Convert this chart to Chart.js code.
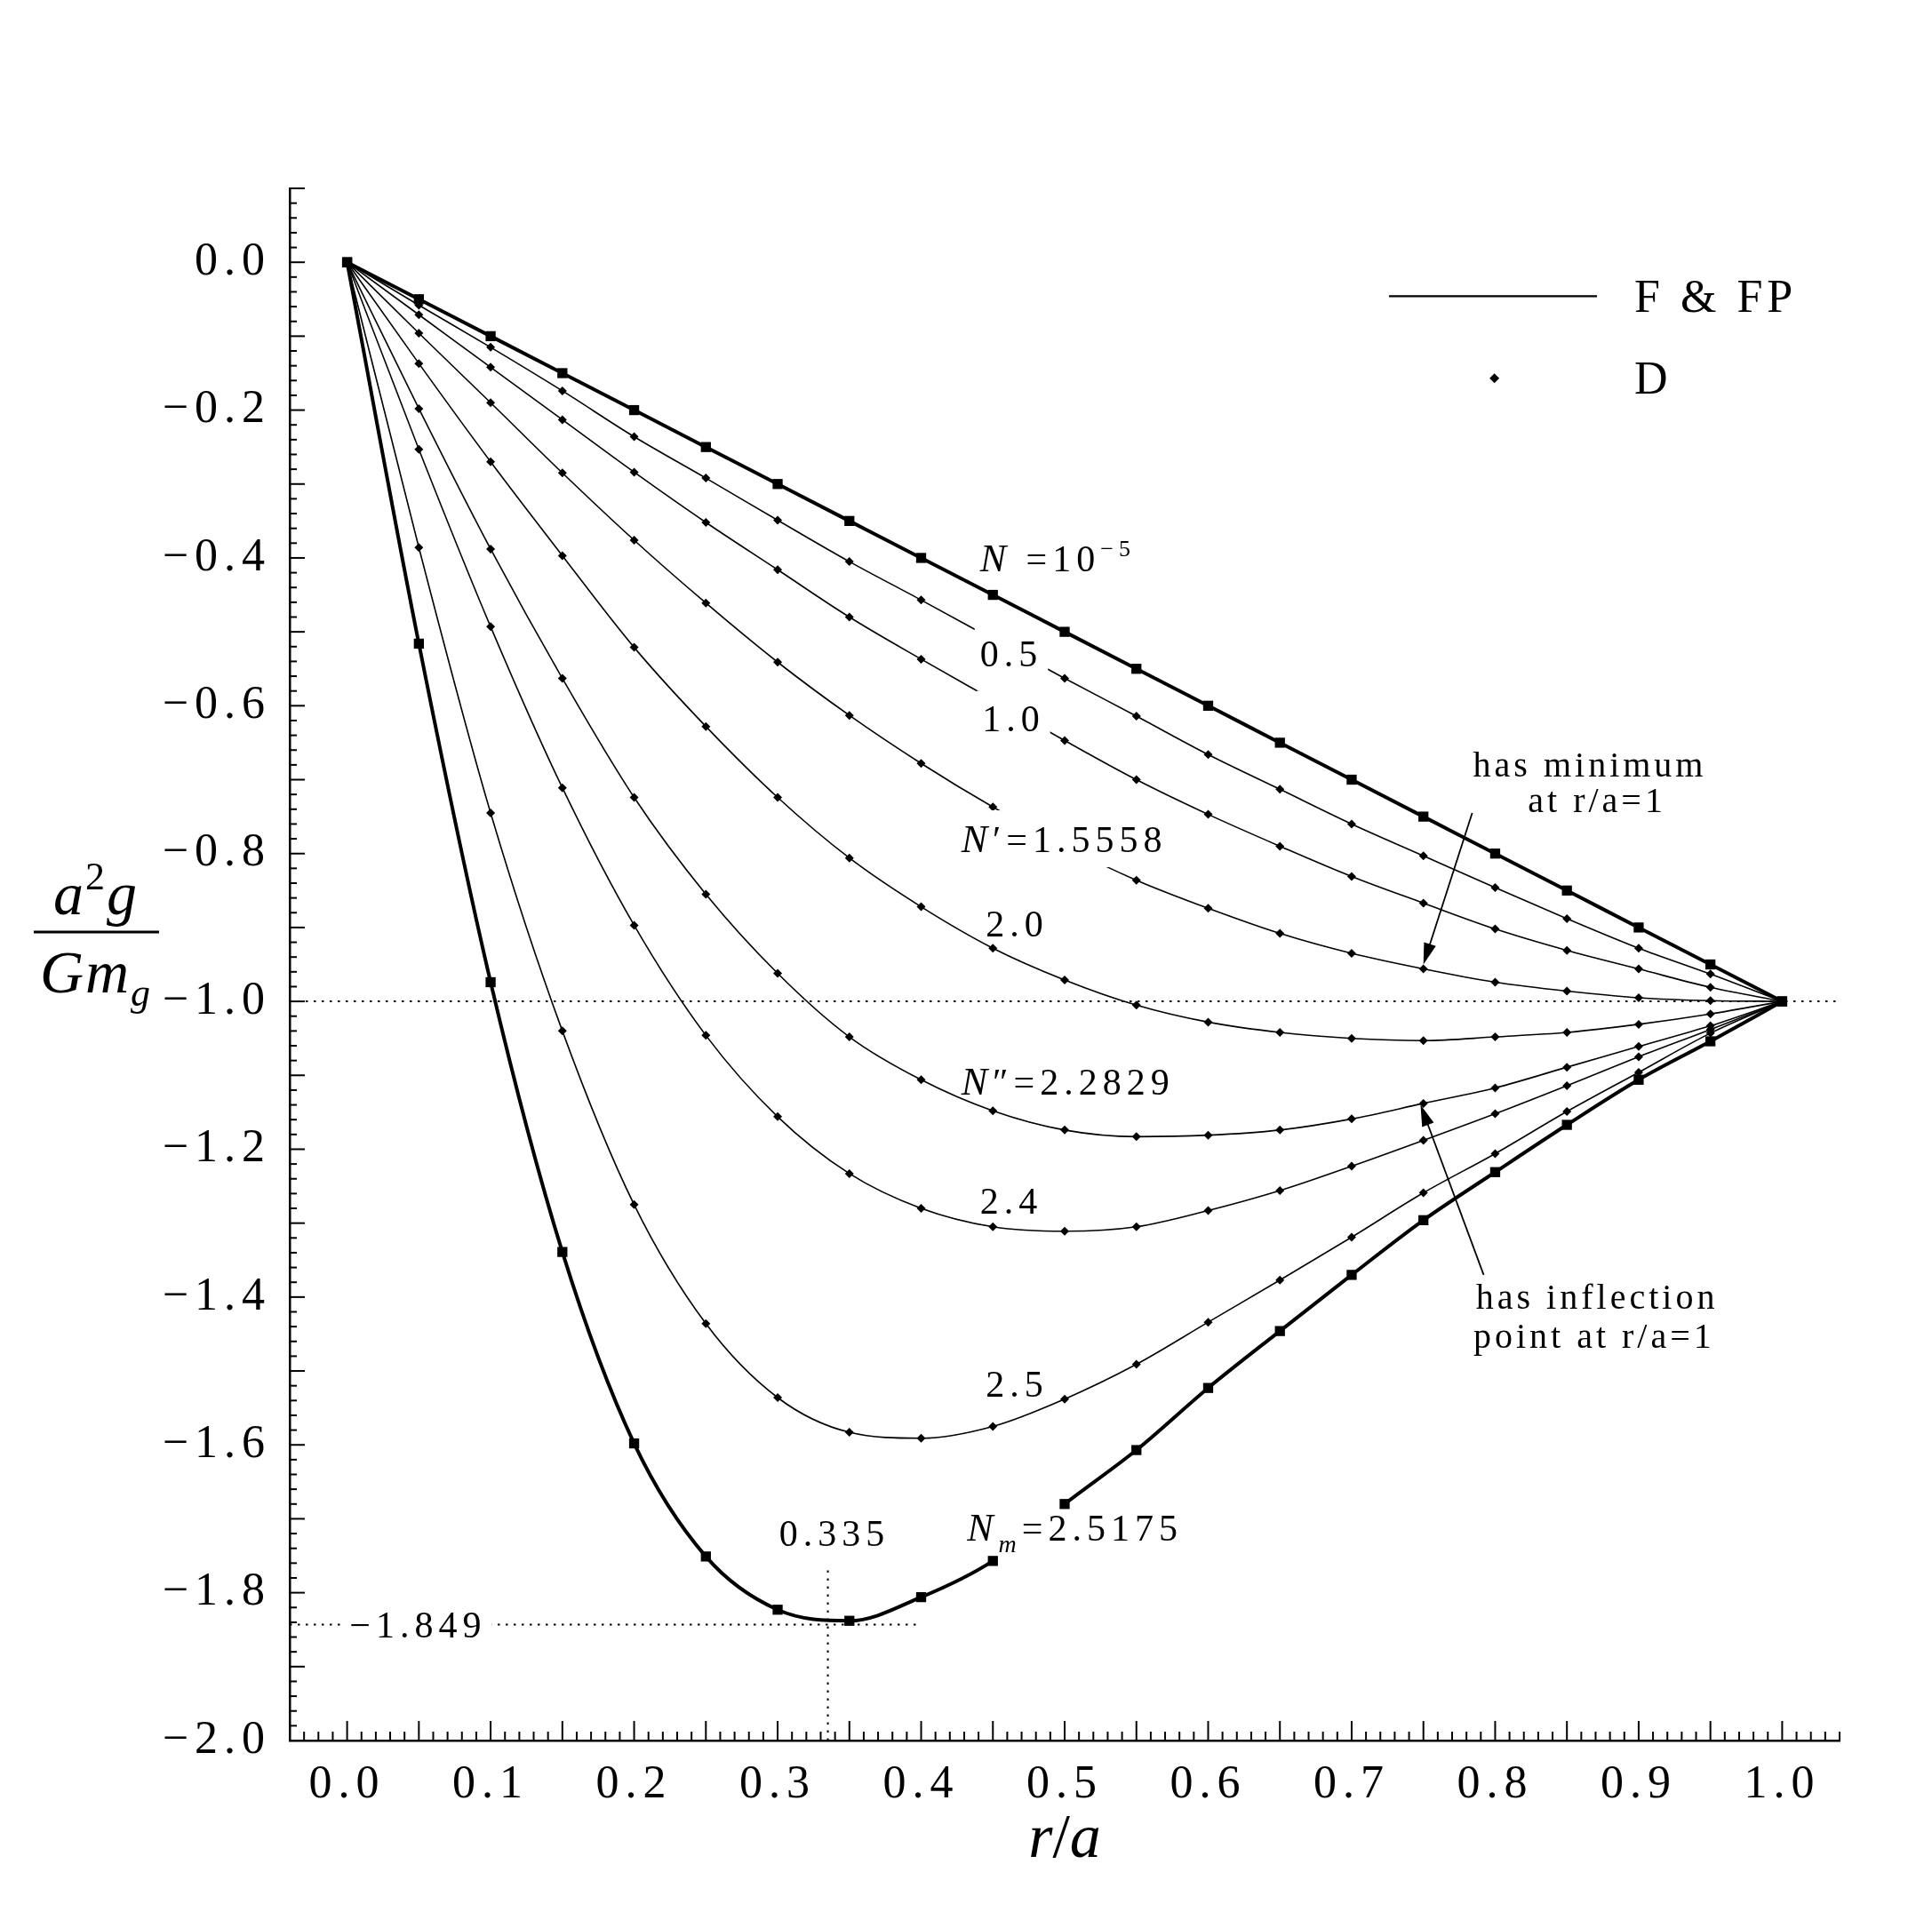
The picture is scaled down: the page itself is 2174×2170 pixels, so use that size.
<!DOCTYPE html>
<html>
<head>
<meta charset="utf-8">
<title>a2g/Gmg vs r/a</title>
<script src="https://cdn.jsdelivr.net/npm/chart.js@4.4.1/dist/chart.umd.min.js"></script>
<style>
    html, body { margin: 0; padding: 0; background: #fff; }
    canvas { display: block; }
</style>
</head>
<body>
<canvas id="chart" width="2174" height="2170"></canvas>
<script>
// r/a sample points
const rVals = [0, 0.05, 0.1, 0.15, 0.2, 0.25, 0.3, 0.35, 0.4, 0.45, 0.5,
    0.55, 0.6, 0.65, 0.7, 0.75, 0.8, 0.85, 0.9, 0.95, 1.0];

// a^2 g / (G m_g) for each N
const gN1e5 = [0, -0.05, -0.1, -0.15, -0.2, -0.25, -0.3, -0.35, -0.4, -0.45, -0.5,
    -0.55, -0.6, -0.65, -0.7, -0.75, -0.8, -0.85, -0.9, -0.95, -1.0];
const gN05 = [0, -0.058, -0.115, -0.174, -0.236, -0.292, -0.349, -0.405, -0.457, -0.51, -0.563,
    -0.614, -0.666, -0.713, -0.76, -0.803, -0.846, -0.888, -0.928, -0.963, -1.0];
const gN10 = [0, -0.071, -0.142, -0.213, -0.284, -0.352, -0.416, -0.48, -0.537, -0.592, -0.647,
    -0.7, -0.747, -0.79, -0.831, -0.867, -0.902, -0.931, -0.956, -0.981, -1.0];
const gNp = [0, -0.096, -0.19, -0.285, -0.376, -0.461, -0.541, -0.613, -0.678, -0.737, -0.79,
    -0.836, -0.874, -0.908, -0.935, -0.956, -0.974, -0.986, -0.995, -0.999, -1.0];
const gN20 = [0, -0.137, -0.27, -0.397, -0.521, -0.628, -0.724, -0.806, -0.872, -0.928, -0.971,
    -1.005, -1.028, -1.042, -1.05, -1.053, -1.048, -1.042, -1.031, -1.017, -1.0];
const gNpp = [0, -0.198, -0.388, -0.563, -0.724, -0.855, -0.962, -1.048, -1.106, -1.148, -1.174,
    -1.183, -1.181, -1.174, -1.159, -1.138, -1.117, -1.089, -1.061, -1.033, -1.0];
const gN24 = [0, -0.253, -0.493, -0.711, -0.897, -1.046, -1.156, -1.233, -1.28, -1.305, -1.311,
    -1.305, -1.283, -1.256, -1.223, -1.188, -1.152, -1.114, -1.075, -1.038, -1.0];
const gN25 = [0, -0.386, -0.745, -1.04, -1.275, -1.436, -1.536, -1.583, -1.591, -1.575, -1.538,
    -1.491, -1.434, -1.377, -1.319, -1.259, -1.206, -1.149, -1.096, -1.043, -1.0];
const gNm = [0, -0.516, -0.974, -1.339, -1.598, -1.751, -1.823, -1.838, -1.806, -1.757, -1.68,
    -1.607, -1.523, -1.446, -1.37, -1.296, -1.231, -1.167, -1.106, -1.054, -1.0];

// ticks
const xTickVals = [0, 0.1, 0.2, 0.3, 0.4, 0.5, 0.6, 0.7, 0.8, 0.9, 1.0];
const yTickVals = [-2.0, -1.8, -1.6, -1.4, -1.2, -1.0, -0.8, -0.6, -0.4, -0.2, 0.0];

// marked minimum of the N_m curve (guide lines as drawn in the figure)
const minR = 0.335;
const minGuide = -1.843;

const SERIF = '"Liberation Serif", "DejaVu Serif", serif';
const rm = s => `${s}px ${SERIF}`;
const it = s => `italic ${s}px ${SERIF}`;

// F & FP curves are thick with squares, D curves thin with diamonds
const curves = [
    { name: 'N=1e-5', vals: gN1e5, thick: true },
    { name: '0.5', vals: gN05 },
    { name: '1.0', vals: gN10 },
    { name: "N'=1.5558", vals: gNp },
    { name: '2.0', vals: gN20 },
    { name: "N''=2.2829", vals: gNpp },
    { name: '2.4', vals: gN24 },
    { name: '2.5', vals: gN25 },
    { name: 'Nm=2.5175', vals: gNm, thick: true, gapAfter: 9 }
];

// curve labels: left edge / vertical centre in data units
const curveLabels = [
    { x: 0.441, y: -0.400, parts: [['N', it(44)], [' =10', rm(42)], ['\u22125', rm(26), -17]] },
    { x: 0.441, y: -0.530, bg: true, parts: [['0.5', rm(42)]] },
    { x: 0.4425, y: -0.617, bg: true, parts: [['1.0', rm(42)]] },
    { x: 0.428, y: -0.780, bg: true, parts: [['N', it(44)], ['\u2032=1.5558', rm(42)]] },
    { x: 0.445, y: -0.895, parts: [['2.0', rm(42)]] },
    { x: 0.428, y: -1.108, parts: [['N', it(44)], ['\u2033=2.2829', rm(42)]] },
    { x: 0.441, y: -1.270, parts: [['2.4', rm(42)]] },
    { x: 0.445, y: -1.518, parts: [['2.5', rm(42)]] },
    { x: 0.432, y: -1.712, parts: [['N', it(44)], ['m', it(28), 13], ['=2.5175', rm(42)]] },
    { x: 0.0017, y: minGuide, bg: true, parts: [['\u22121.849', rm(42)]] },
    { x: 0.301, y: -1.720, parts: [['0.335', rm(42)]] }
];

const notes = [
    { x: 0.866, y: -0.679, text: 'has minimum' },
    { x: 0.871, y: -0.728, text: 'at r/a=1' },
    { x: 0.871, y: -1.400, text: 'has inflection' },
    { x: 0.869, y: -1.452, text: 'point at r/a=1' }
];

const arrows = [
    { from: [0.784, -0.745], to: [0.750, -0.950] },
    { from: [0.792, -1.370], to: [0.748, -1.140] }
];

function drawRun(ctx, parts, x, yMid, align, spacing, bg) {
    let w = 0;
    parts.forEach(p => {
        ctx.font = p[1];
        ctx.letterSpacing = spacing + 'px';
        p.w = ctx.measureText(p[0]).width;
        w += p.w;
    });
    const size = parseFloat(parts[0][1].match(/(\d+)px/)[1]);
    const base = yMid + size * 0.34;
    let cx = align === 'center' ? x - w / 2 : x;
    if (bg) {
        ctx.fillStyle = '#fff';
        ctx.fillRect(cx - 6, yMid - size * 0.5 - 10, w + 12, size + 20);
    }
    ctx.fillStyle = '#000';
    ctx.textAlign = 'left';
    ctx.textBaseline = 'alphabetic';
    parts.forEach(p => {
        ctx.font = p[1];
        ctx.letterSpacing = spacing + 'px';
        ctx.fillText(p[0], cx, base + (p[2] || 0));
        cx += p.w;
    });
}

function line(ctx, x1, y1, x2, y2) {
    ctx.beginPath();
    ctx.moveTo(x1, y1);
    ctx.lineTo(x2, y2);
    ctx.stroke();
}

const decorations = {
    id: 'decorations',
    beforeDraw(chart) {
        chart.ctx.letterSpacing = '7px';
    },
    beforeDatasetsDraw(chart) {
        const ctx = chart.ctx, xs = chart.scales.x, ys = chart.scales.y, a = chart.chartArea;
        ctx.save();
        ctx.strokeStyle = '#000';
        ctx.lineWidth = 2;
        ctx.setLineDash([2.5, 6.5]);
        line(ctx, a.left, ys.getPixelForValue(-1), a.right, ys.getPixelForValue(-1));
        line(ctx, a.left, ys.getPixelForValue(minGuide), xs.getPixelForValue(0.4), ys.getPixelForValue(minGuide));
        line(ctx, xs.getPixelForValue(minR), a.bottom, xs.getPixelForValue(minR), ys.getPixelForValue(-1.765));
        ctx.restore();
    },
    afterDraw(chart) {
        const ctx = chart.ctx, xs = chart.scales.x, ys = chart.scales.y, a = chart.chartArea;
        const X = v => xs.getPixelForValue(v), Y = v => ys.getPixelForValue(v);
        ctx.save();

        // tick marks, pointing into the plot
        ctx.strokeStyle = '#000';
        ctx.lineWidth = 2;
        for (let k = -4; k <= 104; k++) {
            const px = X(k / 100);
            line(ctx, px, a.bottom, px, a.bottom - (k % 5 === 0 ? 22 : 10));
        }
        for (let k = -100; k <= 5; k++) {
            const py = Y(k / 50);
            line(ctx, a.left, py, a.left + (k % 5 === 0 ? 17 : 8), py);
        }

        // curve labels
        curveLabels.forEach(l => {
            drawRun(ctx, l.parts.map(p => p.slice()), X(l.x), Y(l.y), 'left', 6, l.bg);
        });

        // notes and arrows
        notes.forEach(n => drawRun(ctx, [[n.text, rm(40)]], X(n.x), Y(n.y), 'center', 4, false));
        ctx.letterSpacing = '0px';
        arrows.forEach(ar => {
            const x1 = X(ar.from[0]), y1 = Y(ar.from[1]), x2 = X(ar.to[0]), y2 = Y(ar.to[1]);
            const ang = Math.atan2(y2 - y1, x2 - x1);
            const L = 24, W = 7;
            ctx.lineWidth = 1.8;
            line(ctx, x1, y1, x2 - Math.cos(ang) * L * 0.8, y2 - Math.sin(ang) * L * 0.8);
            ctx.beginPath();
            ctx.moveTo(x2, y2);
            ctx.lineTo(x2 - Math.cos(ang) * L - Math.sin(ang) * W, y2 - Math.sin(ang) * L + Math.cos(ang) * W);
            ctx.lineTo(x2 - Math.cos(ang) * L + Math.sin(ang) * W, y2 - Math.sin(ang) * L - Math.cos(ang) * W);
            ctx.closePath();
            ctx.fillStyle = '#000';
            ctx.fill();
        });

        // legend
        ctx.lineWidth = 2.2;
        line(ctx, X(0.726), Y(-0.046), X(0.871), Y(-0.046));
        const dx = X(0.7995), dy = Y(-0.157), r = 5.5;
        ctx.beginPath();
        ctx.moveTo(dx, dy - r);
        ctx.lineTo(dx + r, dy);
        ctx.lineTo(dx, dy + r);
        ctx.lineTo(dx - r, dy);
        ctx.closePath();
        ctx.fill();
        drawRun(ctx, [['F & FP', rm(52)]], X(0.897), Y(-0.046), 'left', 5, false);
        drawRun(ctx, [['D', rm(52)]], X(0.897), Y(-0.157), 'left', 5, false);

        // axis titles
        drawRun(ctx, [['r', it(70)], ['/', rm(70)], ['a', it(70)]], (a.left + a.right) / 2, 2066, 'center', 0, false);
        drawRun(ctx, [['a', it(68)], ['2', rm(44), -28], ['g', it(68)]], 108, 1006, 'center', 2, false);
        drawRun(ctx, [['G', it(68)], ['m', it(68)], ['g', it(44), 15]], 108, 1094, 'center', 2, false);
        ctx.letterSpacing = '0px';
        ctx.lineWidth = 3;
        line(ctx, 38, 1049, 179, 1049);

        ctx.restore();
    }
};

const datasets = curves.map(c => ({
    label: c.name,
    data: rVals.map((r, i) => ({ x: r, y: c.vals[i] })),
    borderColor: '#000',
    backgroundColor: '#000',
    borderWidth: c.thick ? 4 : 1.6,
    pointStyle: c.thick ? 'rect' : 'rectRot',
    pointRadius: c.thick ? 8 : 5,
    pointBorderWidth: 0,
    pointBackgroundColor: '#000',
    cubicInterpolationMode: 'monotone',
    segment: {
        borderColor: s => (c.gapAfter !== undefined && s.p0DataIndex === c.gapAfter) ? 'rgba(0,0,0,0)' : '#000'
    }
}));

const tickFont = { family: SERIF, size: 52 };

new Chart(document.getElementById('chart'), {
    type: 'line',
    data: { datasets: datasets },
    options: {
        responsive: false,
        animation: false,
        devicePixelRatio: 1,
        layout: { padding: { top: 212, right: 104, bottom: 0, left: 0 } },
        plugins: { legend: { display: false }, tooltip: { enabled: false } },
        scales: {
            x: {
                type: 'linear',
                min: -0.04,
                max: 1.04,
                grid: { display: false, drawTicks: false },
                border: { display: true, color: '#000', width: 2.5 },
                ticks: {
                    font: tickFont,
                    color: '#000',
                    padding: 19,
                    autoSkip: false,
                    maxRotation: 0,
                    callback: v => v.toFixed(1)
                },
                afterBuildTicks: s => { s.ticks = xTickVals.map(v => ({ value: v })); },
                afterFit: s => { s.height = 211; }
            },
            y: {
                type: 'linear',
                min: -2.0,
                max: 0.1,
                grid: { display: false, drawTicks: false },
                border: { display: true, color: '#000', width: 2.5 },
                ticks: {
                    font: tickFont,
                    color: '#000',
                    padding: 21,
                    autoSkip: false,
                    callback: v => (v < -1e-9 ? '\u2212' : '') + Math.abs(v).toFixed(1)
                },
                afterBuildTicks: s => { s.ticks = yTickVals.map(v => ({ value: v })); },
                afterFit: s => { s.width = 326; }
            }
        }
    },
    plugins: [decorations]
});
</script>
</body>
</html>
